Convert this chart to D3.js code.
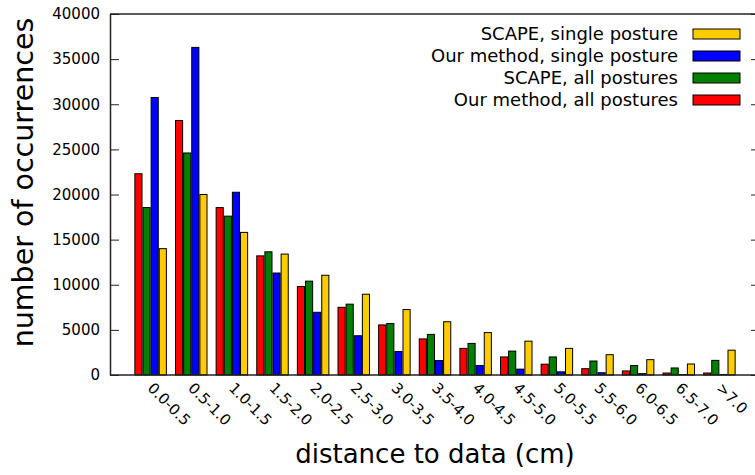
<!DOCTYPE html>
<html>
<head>
<meta charset="utf-8">
<script src="https://cdn.jsdelivr.net/npm/d3@7"></script>
<style>
  body { margin: 0; background: #fff; }
  text { font-family: "DejaVu Sans", Verdana, sans-serif; }
</style>
</head>
<body>
<div id="chart"></div>
<script>
// bins of the distance histogram
const categories = ["0.0-0.5", "0.5-1.0", "1.0-1.5", "1.5-2.0", "2.0-2.5", "2.5-3.0", "3.0-3.5",
  "3.5-4.0", "4.0-4.5", "4.5-5.0", "5.0-5.5", "5.5-6.0", "6.0-6.5", "6.5-7.0", ">7.0"];

// values
const ourAll = [22300, 28200, 18550, 13200, 9800, 7500, 5550, 4000, 2950, 2000, 1200, 700, 450, 220, 220];
const scapeAll = [18550, 24600, 17600, 13650, 10400, 7850, 5700, 4500, 3500, 2650, 2000, 1550, 1050, 780, 1620];
const ourSingle = [30750, 36300, 20250, 11300, 6950, 4350, 2600, 1600, 1050, 650, 350, 250, 150, 50, 60];
const scapeSingle = [14000, 20000, 15800, 13400, 11050, 8950, 7250, 5900, 4700, 3750, 2950, 2250, 1700, 1220, 2750];

const seriesNames = ["Our method, all postures", "SCAPE, all postures", "Our method, single posture", "SCAPE, single posture"];
const seriesColors = ["#ff0000", "#008000", "#0000ff", "#ffcc00"];
const seriesValues = [ourAll, scapeAll, ourSingle, scapeSingle];

const yTicks = [0, 5000, 10000, 15000, 20000, 25000, 30000, 35000, 40000];

const W = 755, H = 475;
const plotL = 110, plotR = 760, plotT = 14, plotB = 375;
const unit = (plotR - plotL) / 16;

const svg = d3.select("#chart").append("svg")
    .attr("width", W)
    .attr("height", H);

const x0 = d3.scaleBand()
    .domain(categories)
    .range([plotL + unit / 2, plotR - unit / 2])
    .paddingInner(0.2)
    .paddingOuter(0.1);

const x1 = d3.scaleBand()
    .domain(d3.range(seriesNames.length))
    .range([0, x0.bandwidth()]);

const y = d3.scaleLinear()
    .domain([0, 40000])
    .range([plotB, plotT]);

// bars
const groups = svg.append("g")
    .selectAll("g")
    .data(categories)
    .join("g")
    .attr("transform", d => `translate(${x0(d)},0)`);

groups.selectAll("rect")
    .data((d, i) => seriesValues.map((s, k) => ({ k, v: s[i] })))
    .join("rect")
    .attr("x", d => x1(d.k) + 0.5)
    .attr("y", d => y(d.v))
    .attr("width", x1.bandwidth() - 1)
    .attr("height", d => y(0) - y(d.v))
    .attr("fill", d => seriesColors[d.k])
    .attr("stroke", "#000")
    .attr("stroke-width", 1);

// left axis, ticks pointing inwards
const yAxis = svg.append("g")
    .attr("transform", `translate(${plotL},0)`)
    .call(d3.axisLeft(y).tickValues(yTicks).tickSizeInner(-9).tickSizeOuter(0)
        .tickPadding(10).tickFormat(d3.format("d")));
yAxis.selectAll("text").style("font-size", "15px").attr("fill", "#000");
yAxis.selectAll("line").attr("stroke", "#222");
yAxis.select(".domain").attr("stroke", "#222").attr("stroke-width", 1.5);

// mirrored ticks on the right
const yAxisR = svg.append("g")
    .attr("transform", `translate(${plotR},0)`)
    .call(d3.axisRight(y).tickValues(yTicks).tickSizeInner(-9).tickSizeOuter(0).tickFormat(""));
yAxisR.selectAll("line").attr("stroke", "#222");
yAxisR.select(".domain").attr("stroke", "#222").attr("stroke-width", 1.5);

// top border
svg.append("line")
    .attr("x1", plotL).attr("x2", plotR)
    .attr("y1", plotT).attr("y2", plotT)
    .attr("stroke", "#222").attr("stroke-width", 1.5);

// bottom axis
const xAxis = svg.append("g")
    .attr("transform", `translate(0,${plotB})`)
    .call(d3.axisBottom(x0).tickSize(0).tickSizeOuter(0).tickPadding(0));
xAxis.select(".domain").attr("stroke", "#222").attr("stroke-width", 1.5)
    .attr("d", `M${plotL},0H${plotR}`);
xAxis.selectAll("text")
    .style("font-size", "15px")
    .attr("fill", "#000")
    .attr("text-anchor", "start")
    .attr("dy", 0)
    .attr("transform", "translate(-4,14) rotate(45)");

// axis titles
svg.append("text")
    .attr("transform", `translate(33,${(plotT + plotB) / 2 - 12}) rotate(-90)`)
    .attr("text-anchor", "middle")
    .style("font-size", "28.5px")
    .text("number of occurrences");

svg.append("text")
    .attr("x", (plotL + plotR) / 2)
    .attr("y", 463)
    .attr("text-anchor", "middle")
    .style("font-size", "26px")
    .text("distance to data (cm)");

// legend (reverse order, top to bottom)
const legendOrder = [3, 2, 1, 0];
const legend = svg.append("g")
    .selectAll("g")
    .data(legendOrder)
    .join("g")
    .attr("transform", (d, i) => `translate(0,${34 + i * 22})`);

legend.append("text")
    .attr("x", 678)
    .attr("dy", "0.35em")
    .attr("text-anchor", "end")
    .style("font-size", "18px")
    .text(d => seriesNames[d]);

legend.append("rect")
    .attr("x", 693)
    .attr("y", -5)
    .attr("width", 47)
    .attr("height", 10)
    .attr("fill", d => seriesColors[d])
    .attr("stroke", "#000");
</script>
</body>
</html>
